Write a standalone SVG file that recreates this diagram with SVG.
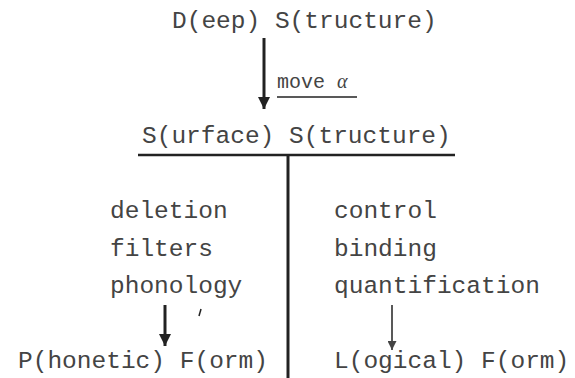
<svg xmlns="http://www.w3.org/2000/svg" width="575" height="378" viewBox="0 0 575 378">
<style>
text{font-family:"Liberation Mono","Courier New",monospace;font-size:24.5px;fill:#444}
.s{font-size:20px}
.ln{stroke:#222;fill:none}
</style>
<defs>
<marker id="ah" viewBox="0 0 10 10" refX="10" refY="5" markerWidth="4" markerHeight="4" orient="auto" markerUnits="strokeWidth"><path d="M0,0L10,5L0,10z" fill="#222"/></marker>
<marker id="ah2" viewBox="0 0 10 10" refX="10" refY="5" markerWidth="6" markerHeight="6" orient="auto" markerUnits="strokeWidth"><path d="M0,0L10,5L0,10z" fill="#444"/></marker>
</defs>
<rect width="575" height="378" fill="#fff"/>
<g id="ds"><text x="172" y="28">D(eep) S(tructure)</text></g>
<g id="ss"><text x="142" y="143">S(urface) S(tructure)</text></g>
<g id="pf-rules"><text x="110" y="218">deletion</text><text x="110" y="256">filters</text><text x="110" y="293">phonology</text></g>
<g id="lf-rules"><text x="334" y="218">control</text><text x="334" y="256">binding</text><text x="334" y="293">quantification</text></g>
<g id="pf"><text x="18" y="368">P(honetic) F(orm)</text></g>
<g id="lf"><text x="334" y="368">L(ogical) F(orm)</text></g>
<g id="move-label"><text class="s" x="277" y="88">move <tspan font-family="Liberation Serif,serif" font-style="italic">α</tspan></text><line class="ln" x1="277" y1="97" x2="357" y2="97" stroke-width="1.5"/></g>
<g id="connectors">
<line class="ln" x1="264" y1="38" x2="264" y2="109" stroke-width="3" marker-end="url(#ah)"/>
<line class="ln" x1="138" y1="155" x2="455" y2="155" stroke-width="2.5"/>
<line class="ln" x1="288" y1="155" x2="288" y2="378" stroke-width="3"/>
<line class="ln" x1="165" y1="305" x2="165" y2="346" stroke-width="3" marker-end="url(#ah)"/>
<line class="ln" x1="392" y1="305" x2="392" y2="350" stroke-width="1.5" stroke="#444" marker-end="url(#ah2)"/>
<line class="ln" x1="201" y1="309" x2="199" y2="316" stroke-width="1.5" stroke="#666"/>
</g>
</svg>
